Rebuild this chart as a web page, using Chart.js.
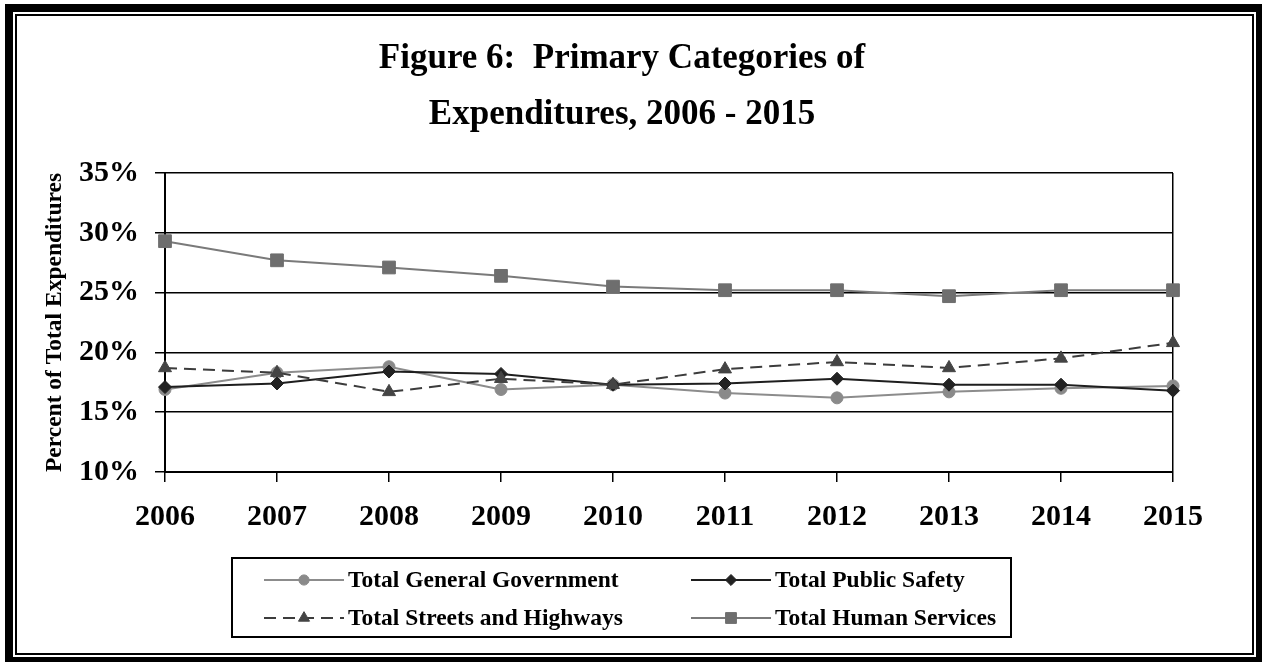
<!DOCTYPE html>
<html>
<head>
<meta charset="utf-8">
<title>Primary Categories of Expenditures, 2006 - 2015</title>
<script src="https://cdn.jsdelivr.net/npm/chart.js@4/dist/chart.umd.min.js"></script>
<style>
  html, body { margin: 0; padding: 0; background: #fff; }
  #wrap { width: 1262px; height: 662px; position: relative; }
</style>
</head>
<body>
<div id="wrap"><canvas id="chart"></canvas></div>
<script>
// Fiscal years on the horizontal axis
const years = ['2006', '2007', '2008', '2009', '2010', '2011', '2012', '2013', '2014', '2015'];

// Share of total expenditures, in percent
const generalGovernment = [16.9, 18.3, 18.8, 16.9, 17.3, 16.6, 16.2, 16.7, 17.0, 17.2];
const publicSafety      = [17.1, 17.4, 18.4, 18.2, 17.3, 17.4, 17.8, 17.3, 17.3, 16.8];
const streetsHighways   = [18.7, 18.3, 16.7, 17.8, 17.3, 18.6, 19.2, 18.7, 19.5, 20.8];
const humanServices     = [29.3, 27.7, 27.1, 26.4, 25.5, 25.2, 25.2, 24.7, 25.2, 25.2];

// Series names and vertical-axis range
const seriesNames = ['Total General Government', 'Total Public Safety', 'Total Streets and Highways', 'Total Human Services'];
const yMin = 10, yMax = 35, yStep = 5;

const SERIF = '"Liberation Serif", "Times New Roman", serif';

// Double-rule border around the whole figure
const framePlugin = {
  id: 'frame',
  beforeDraw(chart) {
    const { ctx, width, height } = chart;
    ctx.save();
    ctx.fillStyle = '#fff';
    ctx.fillRect(0, 0, width, height);
    ctx.fillStyle = '#000';
    ctx.fillRect(5, 4, width - 5, height - 4);
    ctx.fillStyle = '#fff';
    ctx.fillRect(13, 12, 1256 - 13, 657 - 12);
    ctx.strokeStyle = '#000';
    ctx.lineWidth = 2;
    ctx.strokeRect(16, 15, 1253 - 16, 654 - 15);
    ctx.restore();
  }
};

// Boxed legend: a line sample with its marker, two entries per row
function drawMarker(ctx, style, radius, x, y) {
  if (Chart.helpers && Chart.helpers.drawPoint) {
    Chart.helpers.drawPoint(ctx, { pointStyle: style, radius: radius, rotation: 0, borderWidth: 1 }, x, y);
    return;
  }
  ctx.beginPath();
  if (style === 'circle') {
    ctx.arc(x, y, radius, 0, Math.PI * 2);
  } else if (style === 'rect') {
    const s = radius * Math.SQRT1_2;
    ctx.rect(x - s, y - s, 2 * s, 2 * s);
  } else if (style === 'rectRot') {
    ctx.moveTo(x, y - radius); ctx.lineTo(x + radius, y);
    ctx.lineTo(x, y + radius); ctx.lineTo(x - radius, y);
  } else {
    ctx.moveTo(x, y - radius);
    ctx.lineTo(x + radius * Math.sin(Math.PI / 3), y + radius / 2);
    ctx.lineTo(x - radius * Math.sin(Math.PI / 3), y + radius / 2);
  }
  ctx.closePath();
  ctx.fill();
  ctx.stroke();
}

const legendBoxPlugin = {
  id: 'legendBox',
  afterDraw(chart) {
    const ctx = chart.ctx;
    const box = { left: 232, top: 558, right: 1011, bottom: 637 };
    const cols = [264, 691];
    const rows = [580, 618];
    const sampleLen = 80;
    ctx.save();
    ctx.strokeStyle = '#000';
    ctx.lineWidth = 2;
    ctx.strokeRect(box.left, box.top, box.right - box.left, box.bottom - box.top);
    chart.data.datasets.forEach((ds, i) => {
      const x0 = cols[i % 2];
      const y = rows[Math.floor(i / 2)];
      ctx.strokeStyle = ds.borderColor;
      ctx.lineWidth = ds.borderWidth;
      ctx.setLineDash(ds.borderDash || []);
      ctx.beginPath();
      ctx.moveTo(x0, y);
      ctx.lineTo(x0 + sampleLen, y);
      ctx.stroke();
      ctx.setLineDash([]);
      ctx.fillStyle = ds.pointBackgroundColor;
      ctx.strokeStyle = ds.pointBorderColor;
      ctx.lineWidth = 1;
      drawMarker(ctx, ds.pointStyle, ds.pointRadius * 0.85, x0 + sampleLen / 2, y);
      ctx.fillStyle = '#000';
      ctx.font = 'bold 23.5px ' + SERIF;
      ctx.textAlign = 'left';
      ctx.textBaseline = 'middle';
      ctx.fillText(ds.label, x0 + sampleLen + 4, y + 1);
    });
    ctx.restore();
  }
};

const seriesValues = [generalGovernment, publicSafety, streetsHighways, humanServices];
const seriesStyle = [
  { line: '#8c8c8c', mark: '#8a8a8a', shape: 'circle',   radius: 6,   dash: [],      order: 4 },
  { line: '#1e1e1e', mark: '#222222', shape: 'rectRot',  radius: 6.5, dash: [],      order: 3 },
  { line: '#3c3c3c', mark: '#444444', shape: 'triangle', radius: 7.5, dash: [12, 7], order: 2 },
  { line: '#7a7a7a', mark: '#6e6e6e', shape: 'rect',     radius: 9,   dash: [],      order: 1 }
];

const datasets = seriesNames.map((name, i) => ({
  label: name,
  data: seriesValues[i],
  borderColor: seriesStyle[i].line,
  borderWidth: 2,
  borderDash: seriesStyle[i].dash,
  pointStyle: seriesStyle[i].shape,
  pointRadius: seriesStyle[i].radius,
  pointBackgroundColor: seriesStyle[i].mark,
  pointBorderColor: seriesStyle[i].mark,
  pointBorderWidth: 1,
  tension: 0,
  fill: false,
  clip: false,
  order: seriesStyle[i].order
}));

new Chart(document.getElementById('chart'), {
  type: 'line',
  data: { labels: years, datasets: datasets },
  plugins: [framePlugin, legendBoxPlugin],
  options: {
    responsive: true,
    maintainAspectRatio: false,
    animation: false,
    events: [],
    layout: { padding: { left: 71, right: 89, top: 0, bottom: 126 } },
    plugins: {
      legend: { display: false },
      tooltip: { enabled: false },
      title: {
        display: true,
        text: ['Figure 6:  Primary Categories of', 'Expenditures, 2006 - 2015'],
        color: '#000',
        font: { family: SERIF, size: 35, weight: 'bold', lineHeight: 56 / 35 },
        padding: { top: 31, bottom: 30 }
      }
    },
    scales: {
      x: {
        offset: false,
        afterFit(scale) { scale.height = 64; },
        grid: {
          drawOnChartArea: true,
          color: (c) => (c.index === years.length - 1 ? '#000' : 'rgba(0,0,0,0)'),
          lineWidth: 1.5,
          tickColor: '#000',
          tickLength: 10,
          tickWidth: 1.5
        },
        border: { display: true, color: '#000', width: 2 },
        ticks: {
          color: '#000',
          padding: 17,
          maxRotation: 0,
          autoSkip: false,
          font: { family: SERIF, size: 30, weight: 'bold' }
        }
      },
      y: {
        min: yMin,
        max: yMax,
        afterFit(scale) { scale.width = 94; },
        grid: {
          color: '#000',
          lineWidth: 1.5,
          tickColor: '#000',
          tickLength: 10,
          tickWidth: 1.5
        },
        border: { display: true, color: '#000', width: 2 },
        ticks: {
          stepSize: yStep,
          color: '#000',
          padding: 16,
          font: { family: SERIF, size: 30, weight: 'bold' },
          callback: (v) => v + '%'
        },
        title: {
          display: true,
          text: 'Percent of Total Expenditures',
          color: '#000',
          font: { family: SERIF, size: 23.5, weight: 'bold' },
          padding: { top: -30, bottom: 0 }
        }
      }
    }
  }
});
</script>
</body>
</html>
